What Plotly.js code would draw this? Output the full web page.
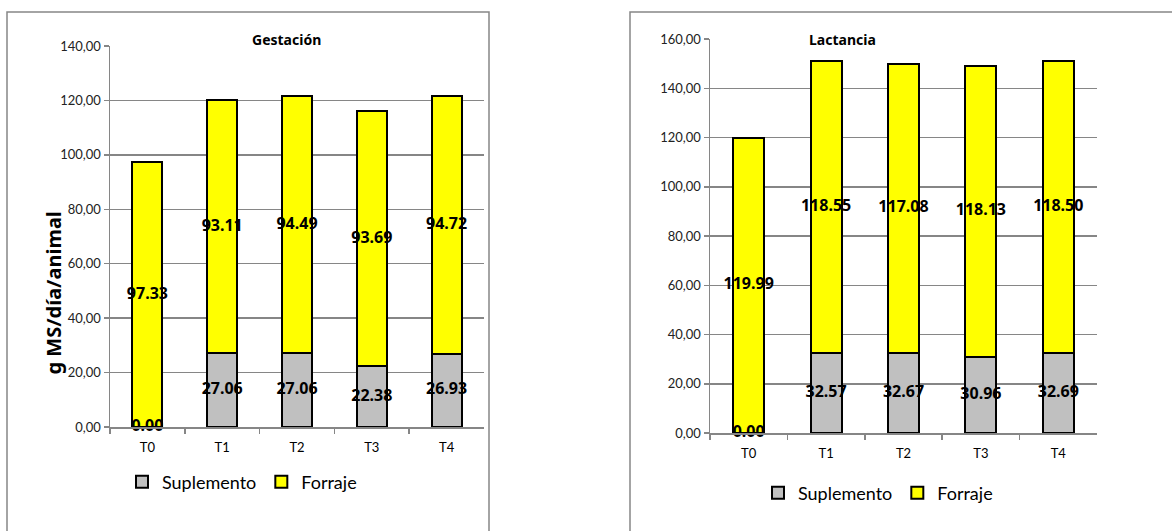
<!DOCTYPE html>
<html><head><meta charset="utf-8">
<script src="https://cdn.plot.ly/plotly-3.0.1.min.js"></script>
<style>body{margin:0;background:#fff}#c{width:1172px;height:531px}</style>
</head><body><div id="c"></div>
<script>
const categories = ['T0','T1','T2','T3','T4'];
const gestSuplemento = [0.00, 27.06, 27.06, 22.38, 26.93];
const gestForraje = [97.33, 93.11, 94.49, 93.69, 94.72];
const lactSuplemento = [0.00, 32.57, 32.67, 30.96, 32.69];
const lactForraje = [119.99, 118.55, 117.08, 118.13, 118.50];
const seriesNames = ['Suplemento', 'Forraje'];
const panelTitles = ['Gestación', 'Lactancia'];
const yTitle = 'g MS/día/animal';

const W = 1172, H = 531;
const px = v => v / W, py = v => (H - v) / H;
const FONT = 'Lato, Calibri, sans-serif';
const BFONT = '"Noto Sans", "Open Sans", sans-serif';
const colS = '#c0c0c0', colF = '#ffff00';

function barsFor(sup, forr, xa, ya, leg) {
  const barLine = {color: '#000', width: 2};
  const tf = {family: BFONT, size: 16, color: '#000'};
  return [
    {type: 'bar', name: seriesNames[0], x: categories, y: sup, xaxis: xa, yaxis: ya,
     marker: {color: colS, line: barLine}, legend: leg, hoverinfo: 'skip'},
    {type: 'bar', name: seriesNames[1], x: categories, y: forr, xaxis: xa, yaxis: ya,
     marker: {color: colF, line: barLine}, legend: leg, hoverinfo: 'skip'},
    {type: 'scatter', mode: 'text', x: categories, y: sup.map(v => v / 2),
     text: sup.map(v => '<b>' + v.toFixed(2) + '</b>'), xaxis: xa, yaxis: ya, showlegend: false,
     cliponaxis: false, textfont: tf, hoverinfo: 'skip'},
    {type: 'scatter', mode: 'text', x: categories, y: forr.map((v, i) => sup[i] + v / 2),
     text: forr.map(v => '<b>' + v.toFixed(2) + '</b>'), xaxis: xa, yaxis: ya, showlegend: false,
     cliponaxis: false, textfont: tf, hoverinfo: 'skip'}
  ];
}

const data = [
  ...barsFor(gestSuplemento, gestForraje, 'x', 'y', 'legend'),
  ...barsFor(lactSuplemento, lactForraje, 'x2', 'y2', 'legend2')
];

const xCommon = {
  type: 'category', showgrid: false, showline: true, linecolor: '#868686', linewidth: 1.5,
  ticks: 'outside', ticklen: 5, tickcolor: '#868686', tickwidth: 1.5, tickson: 'boundaries',
  ticklabelstandoff: 8,
  tickfont: {family: FONT, size: 13, color: '#000'}, fixedrange: true
};
const yCommon = {
  showgrid: true, gridcolor: '#868686', gridwidth: 1.5, showline: true, linecolor: '#868686', linewidth: 1.5,
  ticks: 'outside', ticklen: 5, tickcolor: '#868686', tickwidth: 1.5, dtick: 20, tickformat: '.2f',
  tickfont: {family: FONT, size: 13, color: '#222'}, zeroline: false, fixedrange: true
};

const legCommon = {orientation: 'h', xanchor: 'center', yanchor: 'middle', traceorder: 'normal',
  font: {family: FONT, size: 18, color: '#000'}, bgcolor: 'rgba(0,0,0,0)', itemclick: false, itemwidth: 30};

const layout = {
  width: W, height: H, margin: {l: 0, r: 0, t: 0, b: 0},
  paper_bgcolor: '#fff', plot_bgcolor: '#fff', separators: ',.',
  barmode: 'stack', bargap: 0.6, showlegend: true,
  xaxis: Object.assign({}, xCommon, {domain: [px(110), px(484)], anchor: 'y'}),
  yaxis: Object.assign({}, yCommon, {domain: [py(427), py(46)], range: [0, 140], anchor: 'x'}),
  xaxis2: Object.assign({}, xCommon, {domain: [px(710), px(1097)], anchor: 'y2'}),
  yaxis2: Object.assign({}, yCommon, {domain: [py(433), py(39)], range: [0, 160], anchor: 'x2'}),
  legend: Object.assign({}, legCommon, {x: px(242), y: py(482)}),
  legend2: Object.assign({}, legCommon, {x: px(878), y: py(493)}),
  shapes: [
    {type: 'rect', xref: 'paper', yref: 'paper', x0: px(7), x1: px(489), y0: -0.05, y1: py(12),
     line: {color: '#868686', width: 1.5}, layer: 'below'},
    {type: 'rect', xref: 'paper', yref: 'paper', x0: px(630), x1: 1.05, y0: -0.05, y1: py(12),
     line: {color: '#868686', width: 1.5}, layer: 'below'}
  ],
  annotations: [
    {text: '<b>' + panelTitles[0] + '</b>', xref: 'paper', yref: 'paper', x: px(250), y: py(28), showarrow: false,
     font: {family: BFONT, size: 14, color: '#000'}},
    {text: '<b>' + panelTitles[1] + '</b>', xref: 'paper', yref: 'paper', x: px(878), y: py(28), showarrow: false,
     font: {family: BFONT, size: 14, color: '#000'}},
    {text: '<b>' + yTitle + '</b>', xref: 'paper', yref: 'paper', x: px(37), y: py(293), showarrow: false, textangle: -90,
     font: {family: BFONT, size: 20, color: '#000'}}
  ]
};

Plotly.newPlot('c', data, layout, {displayModeBar: false, staticPlot: true});
</script>
</body></html>
